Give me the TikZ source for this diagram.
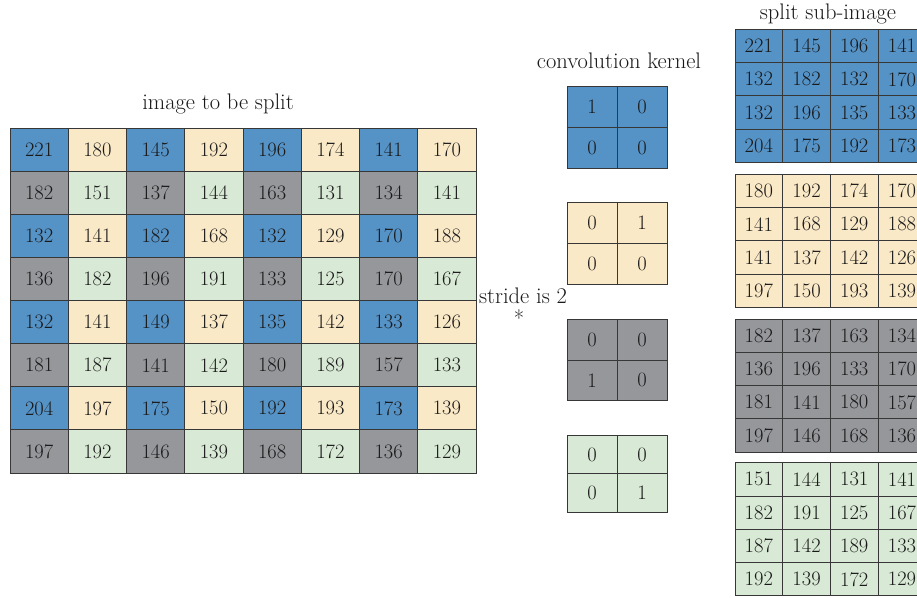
\documentclass[tikz,border=0pt]{standalone}
\definecolor{cblue}{RGB}{85,146,198}
\definecolor{cbeige}{RGB}{250,233,199}
\definecolor{cgray}{RGB}{150,151,155}
\definecolor{cgreen}{RGB}{216,234,213}
\definecolor{cline}{RGB}{55,55,55}
\definecolor{ctext}{RGB}{25,25,25}
\tikzset{
  cell/.style={draw=cline, line width=0.9pt, inner sep=0pt, outer sep=0pt,
    anchor=north west, text=ctext, font=\fontsize{20.5}{20.5}\selectfont},
  bigcell/.style={cell, minimum width=58.25pt, minimum height=43.1pt},
  kercell/.style={cell, minimum width=50pt},
  subcell/.style={cell, minimum width=47.7pt, minimum height=33.3pt},
  title/.style={text=ctext, inner sep=0pt, font=\fontsize{22.5}{22.5}\selectfont}
}
\begin{document}
\begin{tikzpicture}[x=1pt,y=-1pt]
\useasboundingbox (0,0) rectangle (917,597);
\clip (0,0) rectangle (917,597);
\fill[white] (0,0) rectangle (917,597);

% image to be split: 8x8 grid with a 2x2 colour pattern
\foreach \row [count=\r from 0] in {
  {221,180,145,192,196,174,141,170},
  {182,151,137,144,163,131,134,141},
  {132,141,182,168,132,129,170,188},
  {136,182,196,191,133,125,170,167},
  {132,141,149,137,135,142,133,126},
  {181,187,141,142,180,189,157,133},
  {204,197,175,150,192,193,173,139},
  {197,192,146,139,168,172,136,129}}{
  \foreach \v [count=\c from 0] in \row {
    \pgfmathtruncatemacro\k{2*mod(\r,2)+mod(\c,2)}
    \ifcase\k \def\cc{cblue}\or \def\cc{cbeige}\or \def\cc{cgray}\or \def\cc{cgreen}\fi
    \node[bigcell, fill=\cc] (m-\r-\c) at ({10+58.25*\c},{128+43.125*\r}) {\v};
  }
}
\node[title] (t-img) at (218,104) {image to be split};

% convolution kernels
\node[title] (t-ker) at (619,61) {convolution kernel};
\foreach \name/\col/\top/\h/\a/\b/\cv/\d in {
  ka/cblue/86.7/40.8/1/0/0/0,
  kb/cbeige/202.7/40.7/0/1/0/0,
  kc/cgray/319.3/40.7/0/0/1/0,
  kd/cgreen/435.7/38.2/0/0/0/1}{
  \node[kercell, fill=\col, minimum height=\h pt] (\name-00) at (567,\top) {\a};
  \node[kercell, fill=\col, minimum height=\h pt] (\name-01) at (617,\top) {\b};
  \node[kercell, fill=\col, minimum height=\h pt] (\name-10) at (567,{\top+\h}) {\cv};
  \node[kercell, fill=\col, minimum height=\h pt] (\name-11) at (617,{\top+\h}) {\d};
}
\node[title] (t-stride) at (523,296) {stride is 2};
\node[title] (t-star) at (519,318) {*};

% split sub-images
\node[title] (t-sub) at (828,14) {split sub-image};
\foreach \name/\col/\top/\vals in {
  sa/cblue/29.3/{221,145,196,141,132,182,132,170,132,196,135,133,204,175,192,173},
  sb/cbeige/174.3/{180,192,174,170,141,168,129,188,141,137,142,126,197,150,193,139},
  sc/cgray/319/{182,137,163,134,136,196,133,170,181,141,180,157,197,146,168,136},
  sd/cgreen/462.7/{151,144,131,141,182,191,125,167,187,142,189,133,192,139,172,129}}{
  \foreach \v [count=\i from 0] in \vals {
    \pgfmathtruncatemacro\rr{div(\i,4)}
    \pgfmathtruncatemacro\cc{mod(\i,4)}
    \node[subcell, fill=\col] (\name-\rr-\cc) at ({735+47.7*\cc},{\top+33.3*\rr}) {\v};
  }
}
\end{tikzpicture}
\end{document}
